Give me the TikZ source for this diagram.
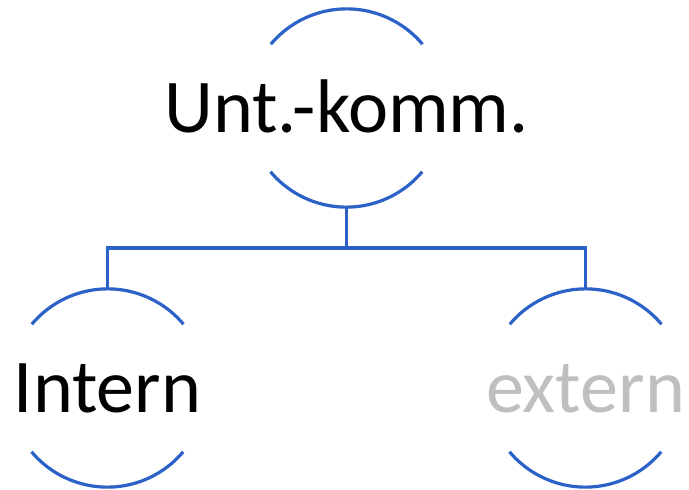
\documentclass[tikz,border=0pt]{standalone}
\usepackage{fontspec}
\setmainfont{Carlito}
\definecolor{arcblue}{RGB}{44,98,200}
\definecolor{greytext}{RGB}{191,191,191}
\tikzset{
  ring/.style={circle,minimum size=198pt,inner sep=0pt},
  wort/.style={inner sep=0pt,text height=48pt,text depth=0pt,font=\fontsize{76}{90}\selectfont},
  bogen/.style={line width=3.2pt,arcblue}
}
\begin{document}
\begin{tikzpicture}[x=1pt,y=1pt]
	    \useasboundingbox (0,0) rectangle (689,-490);
	    \node[ring] (U) at (346.5,-108) {};
	    \node[ring] (I) at (107.5,-388) {};
	    \node[ring] (E) at (585.5,-388) {};
	    \node[wort] (Ut) at (U) {Unt.-komm.};
	    \node[wort] (It) at (I) {Intern};
	    \node[wort,text=greytext] (Et) at (E) {extern};
	    \coordinate (B) at (346.5,-248);
	    \foreach \n in {U,I,E} {
	      \draw[bogen] (\n.40) arc[start angle=40,end angle=140,radius=99pt];
	      \draw[bogen] (\n.220) arc[start angle=220,end angle=320,radius=99pt];
	    }
	    
	    \draw[bogen] (U.south) -- (B);
	    \draw[bogen] (I.north) -- (I.north |- B) -- (E.north |- B) -- (E.north);
	\end{tikzpicture}
\end{document}
